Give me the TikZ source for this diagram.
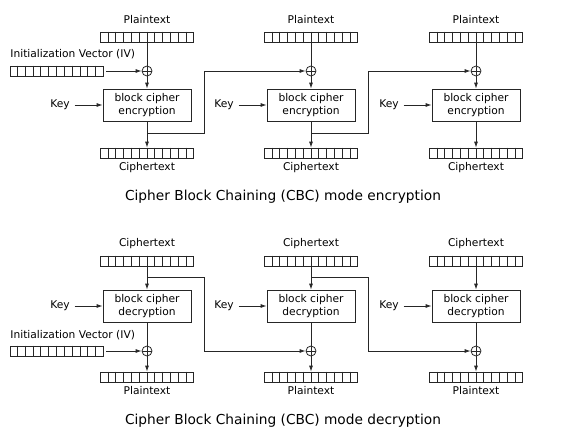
\documentclass[tikz,border=0pt]{standalone}
\usepackage{fontspec}
\setmainfont{DejaVu Sans}
\usetikzlibrary{arrows.meta, calc}

\newcommand{\cellreg}[2]{%
  \node[reg] (#1) at (#2) {};
  \foreach \k in {1,...,11}
    \draw ($(#1.north west)!\k/12!(#1.north east)$) -- ($(#1.south west)!\k/12!(#1.south east)$);
}

\begin{document}
\begin{tikzpicture}[x=0.75pt, y=-0.75pt, line width=0.6pt, draw=black!85,
  every node/.style={font=\fontsize{8}{9.5}\selectfont},
  reg/.style={draw, minimum width=69.75pt, minimum height=7.5pt, inner sep=0pt},
  cipher/.style={draw, minimum width=66pt, minimum height=24pt, align=center, inner sep=1pt},
  xor/.style={draw, circle, minimum size=7.5pt, inner sep=0pt,
    path picture={\draw (path picture bounding box.north) -- (path picture bounding box.south)
      (path picture bounding box.west) -- (path picture bounding box.east);}},
  arr/.style={-{Latex[length=4.5pt,width=3pt]}},
  title/.style={font=\fontsize{10.3}{12}\selectfont}]
\useasboundingbox (0,0) rectangle (574,435);

% encryption
\node[anchor=west, inner sep=0pt] (eivlabel) at (10,54) {Initialization Vector (IV)};
\cellreg{eiv}{56.5,71}
\foreach \i/\x in {1/147,2/311,3/476}{
  \node (ptlabel\i) at (\x,20) {Plaintext};
  \cellreg{pt\i}{\x,37}
  \node[xor] (ex\i) at (\x,71) {};
  \node[cipher] (enc\i) at (\x,105) {block cipher\\encryption};
  \node (ekey\i) at (\x-87,105) {Key};
  \cellreg{ct\i}{\x,153}
  \node (ctlabel\i) at (\x,168) {Ciphertext};
  \coordinate (echain\i) at (\x,133);
  \draw (pt\i) -- (ex\i);
  \draw[arr] (ex\i) -- (enc\i);
  \draw[arr] (enc\i) -- (ct\i);
  \draw[arr] (ekey\i) -- (enc\i);
}
\draw[arr, shorten <=2pt] (eiv) -- (ex1);
\foreach \i/\j in {1/2,2/3}
  \draw[arr] (echain\i) -- ++(57,0) |- (ex\j);
\node[title] (enctitle) at (283,197) {Cipher Block Chaining (CBC) mode encryption};

% decryption
\node[anchor=west, inner sep=0pt] (divlabel) at (10,335) {Initialization Vector (IV)};
\cellreg{div}{56.5,351}
\foreach \i/\x in {1/147,2/311,3/476}{
  \node (dctlabel\i) at (\x,244) {Ciphertext};
  \cellreg{dct\i}{\x,261}
  \node[cipher] (dec\i) at (\x,306) {block cipher\\decryption};
  \node (dkey\i) at (\x-87,306) {Key};
  \node[xor] (dx\i) at (\x,351) {};
  \cellreg{dpt\i}{\x,377}
  \node (dptlabel\i) at (\x,391) {Plaintext};
  \coordinate (dchain\i) at (\x,277);
  \draw[arr] (dct\i) -- (dec\i);
  \draw (dec\i) -- (dx\i);
  \draw[arr] (dx\i) -- (dpt\i);
  \draw[arr] (dkey\i) -- (dec\i);
}
\draw[arr, shorten <=2pt] (div) -- (dx1);
\foreach \i/\j in {1/2,2/3}
  \draw[arr] (dchain\i) -- ++(57,0) |- (dx\j);
\node[title] (dectitle) at (283,421) {Cipher Block Chaining (CBC) mode decryption};
\end{tikzpicture}
\end{document}
